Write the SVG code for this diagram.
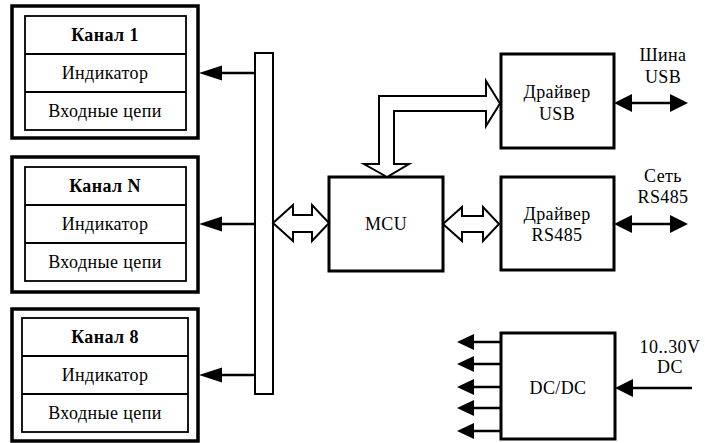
<svg xmlns="http://www.w3.org/2000/svg" width="705" height="443" viewBox="0 0 705 443">
<style>
.outer{fill:#fff;stroke:#000;stroke-width:3.5}
.inner{fill:#fff;stroke:#000;stroke-width:1.8}
.box{fill:#fff;stroke:#000;stroke-width:3}
.bus{fill:#fff;stroke:#000;stroke-width:2}
.hol{fill:#fff;stroke:#000;stroke-width:2;stroke-linejoin:miter}
.ln{stroke:#000;stroke-width:2.5;fill:none}
.hd{fill:#000;stroke:none}
text{font-family:"Liberation Serif","DejaVu Serif",serif;font-size:18px;text-anchor:middle;dominant-baseline:central;fill:#000;letter-spacing:0.4px}
.b{font-weight:bold}
</style>
<g id="ch1">
<rect class="outer" x="12" y="6" width="186" height="132"/>
<rect class="inner" x="25" y="16" width="161" height="114"/>
<line class="inner" x1="25" y1="54" x2="186" y2="54"/>
<line class="inner" x1="25" y1="92" x2="186" y2="92"/>
<text class="b" x="105" y="35">Канал 1</text>
<text x="105" y="73">Индикатор</text>
<text x="105" y="111">Входные цепи</text>
</g>
<g id="chN">
<rect class="outer" x="12" y="157" width="186" height="135"/>
<rect class="inner" x="25" y="167" width="161" height="114"/>
<line class="inner" x1="25" y1="205" x2="186" y2="205"/>
<line class="inner" x1="25" y1="243" x2="186" y2="243"/>
<text class="b" x="105" y="186">Канал N</text>
<text x="105" y="224">Индикатор</text>
<text x="105" y="262">Входные цепи</text>
</g>
<g id="ch8">
<rect class="outer" x="12" y="309" width="186" height="132"/>
<rect class="inner" x="22" y="318" width="166" height="114"/>
<line class="inner" x1="22" y1="356" x2="188" y2="356"/>
<line class="inner" x1="22" y1="394" x2="188" y2="394"/>
<text class="b" x="105" y="337">Канал 8</text>
<text x="105" y="375">Индикатор</text>
<text x="105" y="413">Входные цепи</text>
</g>
<g id="bus">
<rect class="bus" x="255" y="53" width="18" height="341"/>
</g>
<g id="mcu">
<rect class="box" x="329" y="177" width="114" height="94"/>
<text x="386" y="224">MCU</text>
</g>
<g id="usb">
<rect class="box" x="501" y="54" width="113" height="94"/>
<text x="557" y="92">Драйвер</text>
<text x="557" y="114">USB</text>
</g>
<g id="rs485">
<rect class="box" x="501" y="177" width="113" height="93"/>
<text x="557" y="214">Драйвер</text>
<text x="557" y="235">RS485</text>
</g>
<g id="dcdc">
<rect class="box" x="501" y="333" width="114" height="106"/>
<text x="558" y="388">DC/DC</text>
</g>
<g id="labels">
<text x="663" y="55">Шина</text>
<text x="663" y="77">USB</text>
<text x="663" y="176">Сеть</text>
<text x="663" y="197">RS485</text>
<text x="670" y="347">10..30V</text>
<text x="670" y="367">DC</text>
</g>
<g id="connectors">
<line class="ln" x1="255" y1="73" x2="215" y2="73"/>
<polygon class="hd" points="199,73 222,65.5 222,80.5"/>
<line class="ln" x1="255" y1="224" x2="215" y2="224"/>
<polygon class="hd" points="199,224 222,216.5 222,231.5"/>
<line class="ln" x1="255" y1="375" x2="215" y2="375"/>
<polygon class="hd" points="199,375 222,367.5 222,382.5"/>
<polygon class="hol" points="273,223 293,205 293,215 312,215 312,205 329,223 312,241 312,232 293,232 293,241"/>
<polygon class="hol" points="443,224 462,207 462,216 483,216 483,207 499,224 483,241 483,232 462,232 462,241"/>
<polygon class="hol" points="387,177 364,164 379,164 379,96 486,96 486,81 500,103.5 486,126 486,111 394,111 394,164 409,164"/>
<line class="ln" x1="625" y1="103" x2="677" y2="103"/>
<polygon class="hd" points="614,103 632,94 632,112"/>
<polygon class="hd" points="688,103 670,94 670,112"/>
<line class="ln" x1="625" y1="224" x2="677" y2="224"/>
<polygon class="hd" points="614,224 632,215 632,233"/>
<polygon class="hd" points="688,224 670,215 670,233"/>
<line class="ln" x1="692" y1="388" x2="628" y2="388"/>
<polygon class="hd" points="615,388 633,379 633,397"/>
<line class="ln" x1="501" y1="342" x2="468" y2="342"/>
<polygon class="hd" points="457,342 474,334 474,350"/>
<line class="ln" x1="501" y1="364" x2="468" y2="364"/>
<polygon class="hd" points="457,364 474,356 474,372"/>
<line class="ln" x1="501" y1="387" x2="468" y2="387"/>
<polygon class="hd" points="457,387 474,379 474,395"/>
<line class="ln" x1="501" y1="408" x2="468" y2="408"/>
<polygon class="hd" points="457,408 474,400 474,416"/>
<line class="ln" x1="501" y1="431" x2="468" y2="431"/>
<polygon class="hd" points="457,431 474,423 474,439"/>
</g>
</svg>
